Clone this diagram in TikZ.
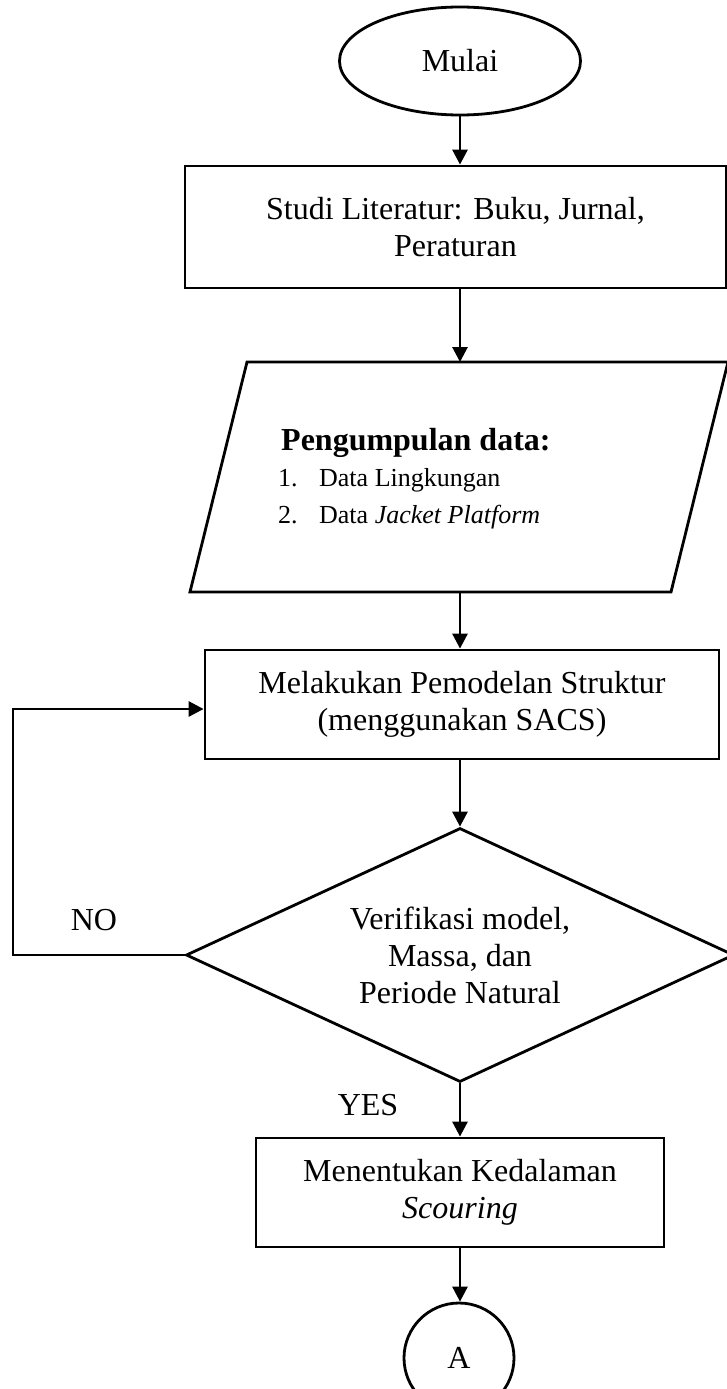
\documentclass[tikz,border=0pt]{standalone}
\usepackage{fontspec}
\setmainfont{Liberation Serif}
\usetikzlibrary{shapes.geometric,arrows.meta,calc}
\begin{document}
\begin{tikzpicture}[x=1pt,y=-1pt,
  every node/.style={font=\fontsize{32}{37}\selectfont},
  box/.style={draw, line width=2.8pt, rectangle, inner sep=0pt, align=center},
  ln/.style={line width=2.8pt, line join=miter},
  arr/.style={line width=2.8pt, -{Triangle[length=15pt,width=15pt]}},
]
\useasboundingbox (0,0) rectangle (727,1389);
\coordinate (axis) at (460,0);
% start
\node[draw, line width=2.8pt, ellipse, minimum width=241pt, minimum height=108pt, inner sep=0pt] (start) at (460,61) {Mulai};
% literature
\node[box, minimum width=541pt, minimum height=122pt] (lit) at (455.5,227) {Studi Literatur: Buku, Jurnal,\\Peraturan};
% data (parallelogram)
\node[minimum width=538pt, minimum height=230pt, inner sep=0pt, outer sep=0pt] (data) at (459,477) {};
\draw[ln] (data.south west) -- ($(data.north west)+(57,0)$) -- (data.north east) -- ($(data.south east)+(-57,0)$) -- cycle;
\node[anchor=west, inner sep=0pt, font=\bfseries\fontsize{32}{37}\selectfont] (dh) at (281,443) {Pengumpulan data:};
\node[anchor=west, inner sep=0pt, font=\fontsize{26}{30}\selectfont] (d1) at (278,480) {\makebox[41pt][l]{1.}Data Lingkungan};
\node[anchor=west, inner sep=0pt, font=\fontsize{26}{30}\selectfont] (d2) at (278,517) {\makebox[41pt][l]{2.}Data \textit{Jacket Platform}};
% modelling
\node[box, minimum width=514pt, minimum height=109pt] (model) at (462,704.5) {Melakukan Pemodelan Struktur\\(menggunakan SACS)};
% decision
\node[draw, line width=2.8pt, diamond, aspect=2.157, minimum width=548pt, minimum height=254pt, inner sep=0pt, align=center] (verif) at (460,955) {Verifikasi model,\\Massa, dan\\Periode Natural};
% scouring
\node[box, minimum width=408pt, minimum height=109pt] (scour) at (460,1192.5) {Menentukan Kedalaman\\\textit{Scouring}};
% connector A
\node[draw, line width=2.8pt, circle, minimum size=110pt, inner sep=0pt] (A) at (459,1358) {A};
% arrows
\draw[arr] (start.south) -- (lit.north -| start.south);
\draw[arr] (lit.south -| axis) -- (data.north -| axis);
\draw[arr] (data.south -| axis) -- (model.north -| axis);
\draw[arr] (model.south -| axis) -- (verif.north);
\draw[arr] (verif.south) -- (scour.north);
\draw[arr] (scour.south) -- (A.north -| scour.south);
% loop back
\coordinate (loop) at (13,709);
\draw[arr, line join=miter] (verif.west) -- (verif.west -| loop) -- (loop) -- (loop -| model.west);
% labels
\node (no) at (94,920) {NO};
\node (yes) at (368,1105) {YES};
\end{tikzpicture}
\end{document}
